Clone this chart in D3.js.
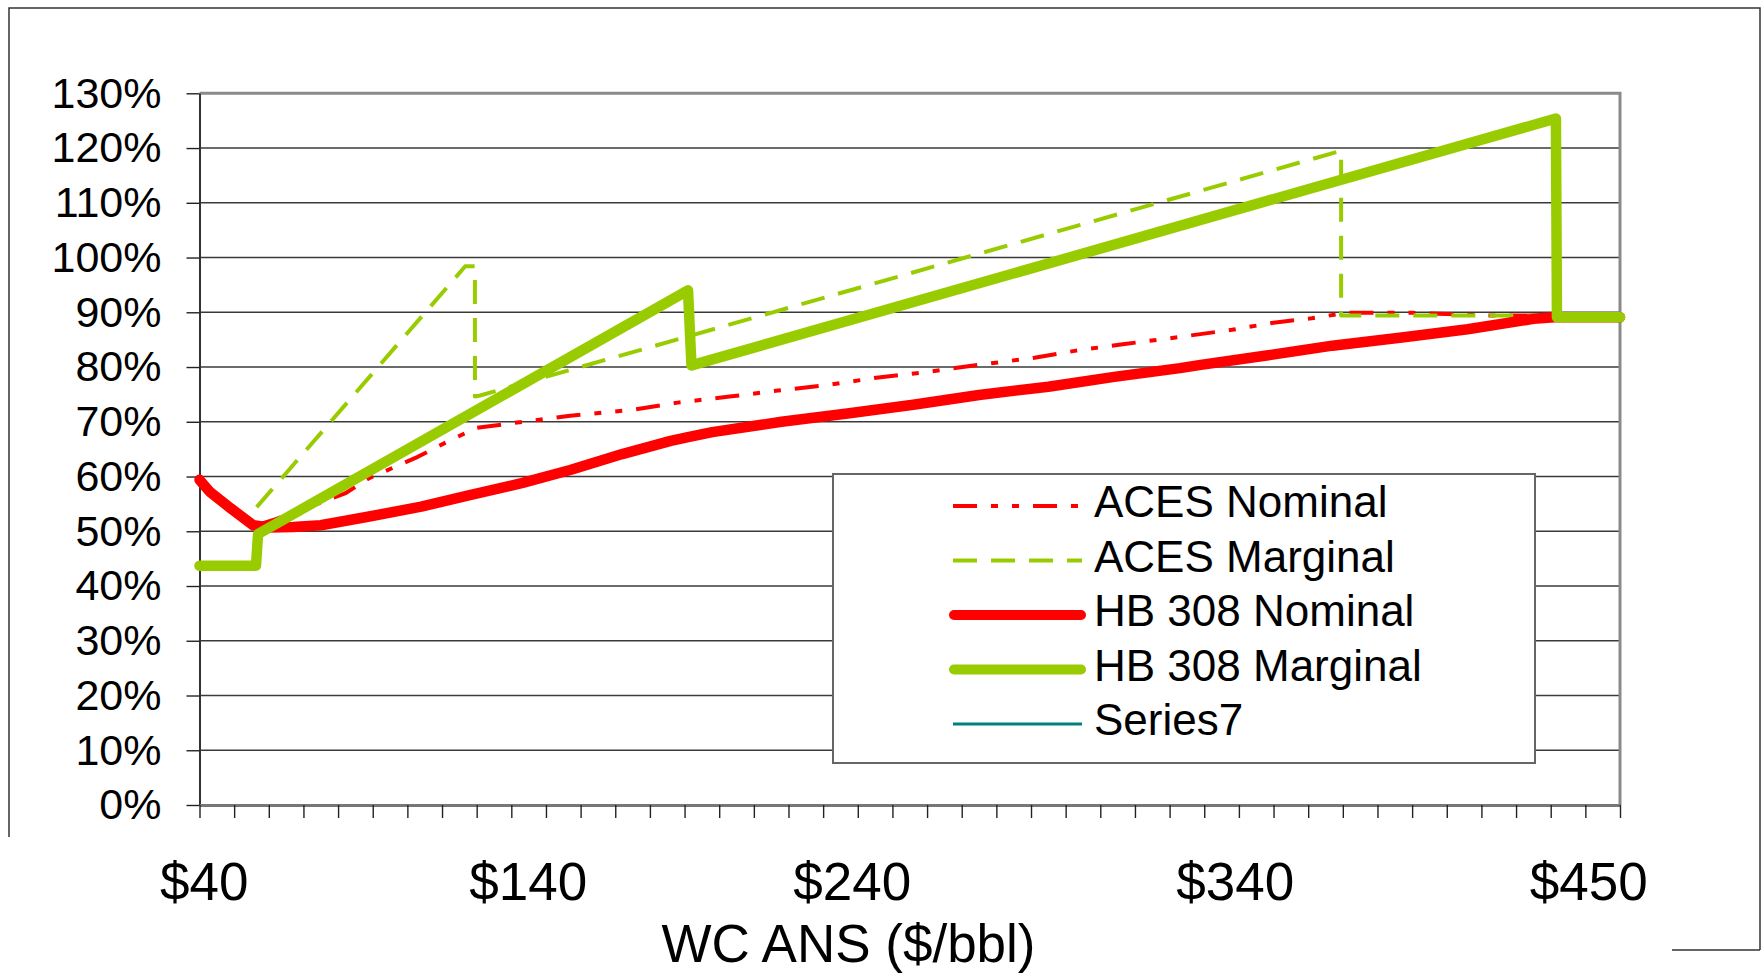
<!DOCTYPE html>
<html>
<head>
<meta charset="utf-8">
<script src="https://cdn.jsdelivr.net/npm/d3@7"></script>
<style>
  html, body { margin: 0; padding: 0; background: #fff; }
  svg { display: block; font-family: "Liberation Sans", Arial, Helvetica, sans-serif; }
</style>
</head>
<body>
<svg id="chart" width="1764" height="977"></svg>
<script>
// Tax rate vs. West Coast ANS price. Each point is [price $/bbl, rate].
const acesNominal = [
  [57, 0.512], [62, 0.522], [82, 0.569], [89, 0.597], [103, 0.636], [112, 0.665],
  [120, 0.689], [131, 0.698], [147, 0.711], [165, 0.722], [178, 0.735], [193, 0.746],
  [207, 0.757], [221, 0.767], [236, 0.781], [250, 0.791], [265, 0.804], [281, 0.817],
  [293, 0.830], [307, 0.842], [323, 0.855], [338, 0.868], [350, 0.881], [361, 0.889],
  [371, 0.899], [390, 0.899], [412, 0.894], [450, 0.894]
];
const acesMarginal = [
  [56.5, 0.544], [116.7, 0.984], [119.5, 0.984], [119.5, 0.746], [121, 0.748],
  [369.5, 1.195], [369.5, 0.894], [450, 0.894]
];
const hb308Nominal = [
  [40, 0.594], [43, 0.572], [49, 0.542], [55.5, 0.511], [60, 0.507], [67, 0.508],
  [75, 0.511], [89, 0.527], [104, 0.545], [118, 0.566], [133, 0.588], [147, 0.612],
  [162, 0.641], [176, 0.665], [181, 0.672], [188, 0.681], [208, 0.700], [227, 0.715],
  [246, 0.731], [265, 0.749], [285, 0.764], [304, 0.782], [323, 0.798], [329, 0.804],
  [348, 0.821], [367, 0.839], [387, 0.854], [406, 0.869], [425, 0.888], [431, 0.891],
  [450, 0.891]
];
const hb308Marginal = [
  [40, 0.437], [56.3, 0.437], [56.9, 0.495], [181, 0.940], [182, 0.803],
  [431.5, 1.254], [431.8, 0.891], [450, 0.891]
];
const series7 = [];

const seriesNames = ["ACES Nominal", "ACES Marginal", "HB 308 Nominal", "HB 308 Marginal", "Series7"];
const yTicks = d3.range(0, 14).map(i => i / 10);          // 0% .. 130%
const xTicks = d3.range(40, 451, 10);                      // minor ticks every $10
const xTickLabels = ["$40", "$140", "$240", "$340", "$450"];
const xTitle = "WC ANS ($/bbl)";

// ---- layout ----
const svg = d3.select("#chart");
const plot = { left: 199.5, right: 1620, top: 93.3, bottom: 805 };

const x = d3.scaleLinear().domain([40, 450]).range([plot.left, plot.right]);
const y = d3.scaleLinear().domain([0, 1.3]).range([plot.bottom, plot.top]);

const styles = [
  { color: "#FF0000", width: 4, dash: "24 14 7 14 7 14", cap: "butt" },
  { color: "#99CC00", width: 4, dash: "24 14", cap: "butt" },
  { color: "#FF0000", width: 10.5, dash: null, cap: "round" },
  { color: "#99CC00", width: 10.5, dash: null, cap: "round" },
  { color: "#008080", width: 3, dash: null, cap: "butt" }
];
const data = [acesNominal, acesMarginal, hb308Nominal, hb308Marginal, series7];

svg.append("rect").attr("width", 1764).attr("height", 977).attr("fill", "#fff");

// outer frame
svg.append("path")
  .attr("d", "M9,837 V8 H1760 V950 M1672,950 H1760")
  .attr("fill", "none").attr("stroke", "#333").attr("stroke-width", 1.5);

// horizontal gridlines
svg.append("g").selectAll("line")
  .data(yTicks.filter(v => v > 0 && v < 1.29))
  .join("line")
  .attr("x1", plot.left).attr("x2", plot.right)
  .attr("y1", d => y(d)).attr("y2", d => y(d))
  .attr("stroke", "#3a3a3a").attr("stroke-width", 1.4);

// plot border (top and right)
svg.append("path")
  .attr("d", `M${plot.left},${plot.top} H${plot.right} V${plot.bottom}`)
  .attr("fill", "none").attr("stroke", "#8a8a8a").attr("stroke-width", 3);

// y axis
const yAxis = svg.append("g")
  .attr("transform", `translate(${plot.left},0)`)
  .call(d3.axisLeft(y).tickValues(yTicks).tickFormat(d3.format(".0%"))
    .tickSize(13).tickSizeOuter(0).tickPadding(25));
yAxis.select(".domain").attr("stroke", "#333").attr("stroke-width", 2);
yAxis.selectAll(".tick line").attr("stroke", "#222").attr("stroke-width", 1.4);
yAxis.selectAll(".tick text")
  .attr("font-size", 43).attr("fill", "#000")
  .attr("font-family", "'Liberation Sans', Arial, sans-serif");

// x axis (tick marks every $10)
const xAxis = svg.append("g")
  .attr("transform", `translate(0,${plot.bottom})`)
  .call(d3.axisBottom(x).tickValues(xTicks).tickFormat(() => "")
    .tickSize(13).tickSizeOuter(0));
xAxis.select(".domain").attr("stroke", "#777").attr("stroke-width", 3);
xAxis.selectAll(".tick line").attr("stroke", "#222").attr("stroke-width", 1.4);

// x labels set as one spaced text row
const spaceRuns = [15, 14, 18, 16];
const labelRow = xTickLabels.map((t, i) => (i ? " ".repeat(spaceRuns[i - 1]) : "") + t).join("");
svg.append("text")
  .attr("x", 160).attr("y", 900)
  .attr("xml:space", "preserve")
  .style("white-space", "pre")
  .attr("font-size", 53).attr("fill", "#000")
  .text(labelRow);

svg.append("text")
  .attr("x", 848.5).attr("y", 962)
  .attr("text-anchor", "middle")
  .attr("font-size", 53).attr("fill", "#000")
  .text(xTitle);

// series lines
const line = d3.line().x(d => x(d[0])).y(d => y(d[1]));
const lines = svg.append("g");
data.forEach((pts, i) => {
  if (!pts.length) return;
  const s = styles[i];
  lines.append("path")
    .attr("d", line(pts))
    .attr("fill", "none")
    .attr("stroke", s.color)
    .attr("stroke-width", s.width)
    .attr("stroke-linejoin", "round")
    .attr("stroke-linecap", s.cap)
    .attr("stroke-dasharray", s.dash);
});

// legend
const lg = svg.append("g");
lg.append("rect")
  .attr("x", 833).attr("y", 474).attr("width", 702).attr("height", 289)
  .attr("fill", "#fff").attr("stroke", "#666").attr("stroke-width", 2);
const rows = lg.selectAll("g.row").data(seriesNames).join("g")
  .attr("class", "row")
  .attr("transform", (d, i) => `translate(0,${517 + i * 54.5})`);
rows.append("line")
  .attr("x1", (d, i) => styles[i].cap === "round" ? 954 : 953)
  .attr("x2", (d, i) => styles[i].cap === "round" ? 1081 : 1082)
  .attr("y1", -11).attr("y2", -11)
  .attr("stroke", (d, i) => styles[i].color)
  .attr("stroke-width", (d, i) => styles[i].cap === "round" ? 10 : styles[i].width)
  .attr("stroke-linecap", (d, i) => styles[i].cap)
  .attr("stroke-dasharray", (d, i) => styles[i].dash);
rows.append("text")
  .attr("x", 1094).attr("y", 0)
  .attr("font-size", 44).attr("fill", "#000")
  .text(d => d);
</script>
</body>
</html>
